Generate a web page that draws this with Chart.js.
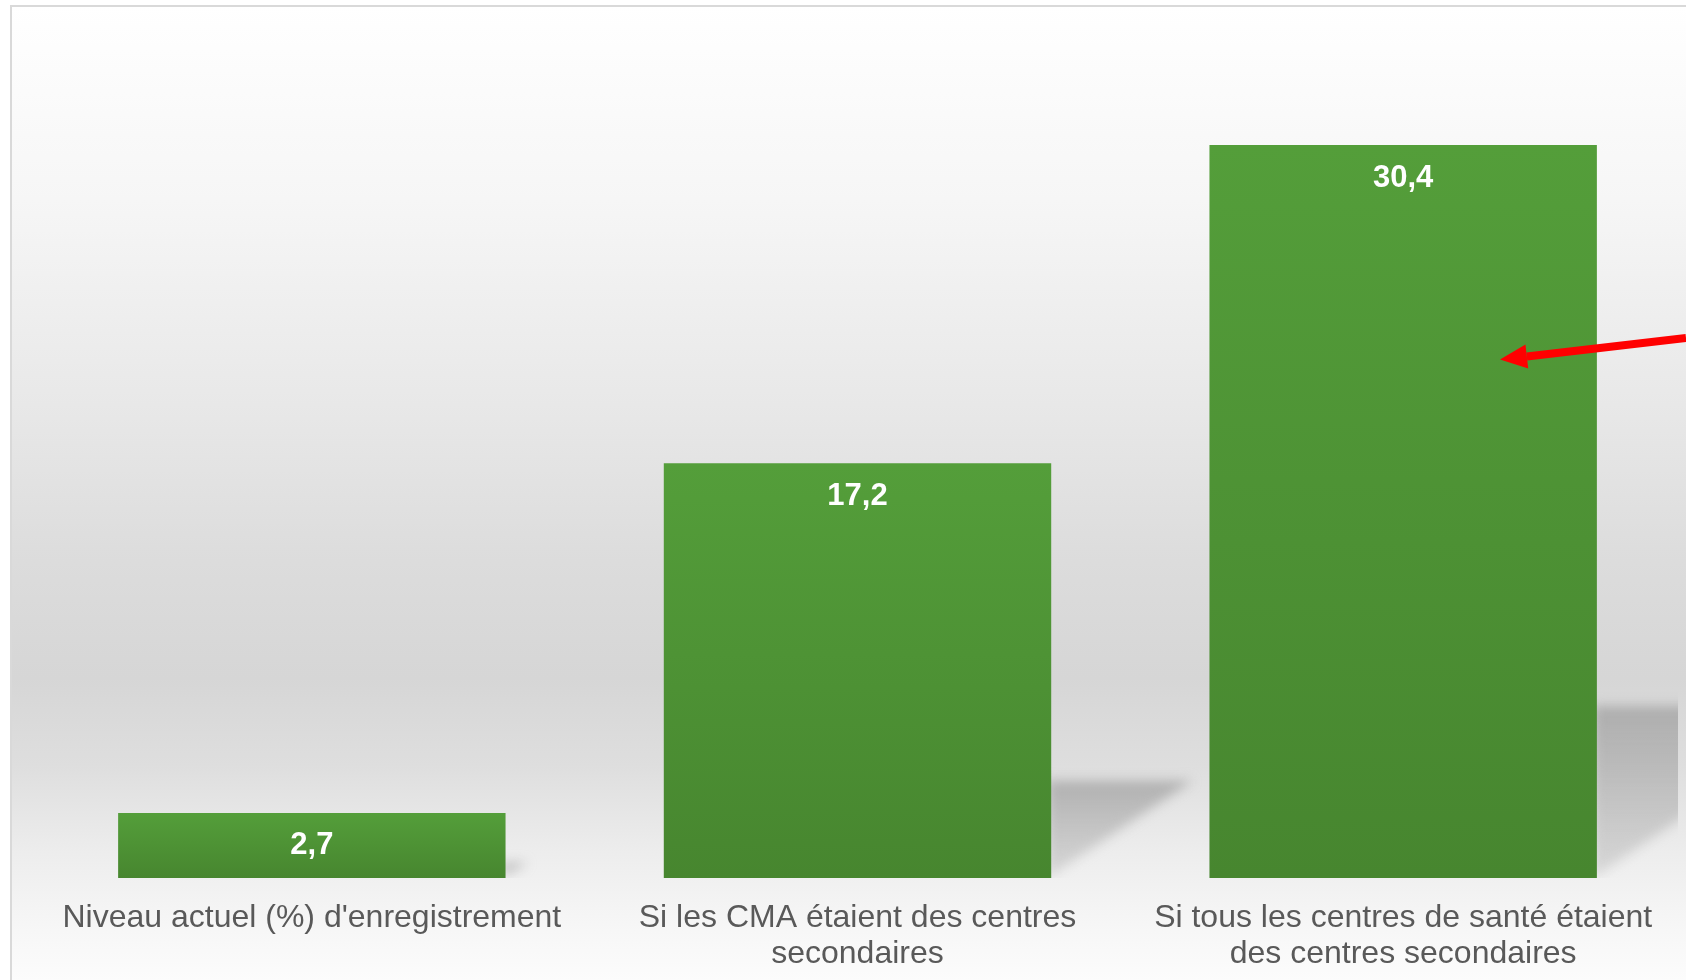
<!DOCTYPE html>
<html>
<head>
<meta charset="utf-8">
<script src="https://cdn.jsdelivr.net/npm/chart.js@4"></script>
<style>
  html, body { margin: 0; padding: 0; background: #fff; }
  #wrap { width: 1686px; height: 980px; position: relative; }
</style>
</head>
<body>
<div id="wrap"><canvas id="regChart"></canvas></div>
<script>
// catégories (étiquettes sur plusieurs lignes)
const categories = [
  ["Niveau actuel (%) d'enregistrement"],
  ["Si les CMA étaient des centres", "secondaires"],
  ["Si tous les centres de santé étaient", "des centres secondaires"]
];
const values = [2.7, 17.2, 30.4];
const valueLabels = ["2,7", "17,2", "30,4"];
// flèche rouge : valeurs (axe y) de la pointe et de la queue
const arrowTip = 21.5;
const arrowTail = 22.4;

// fond dégradé + cadre
const backgroundPlugin = {
  id: "fond",
  beforeDraw(chart) {
    const ctx = chart.ctx;
    const w = chart.width, h = chart.height;
    ctx.save();
    const g = ctx.createLinearGradient(0, 5, 0, h);
    g.addColorStop(0, "#ffffff");
    g.addColorStop(0.2, "#f6f6f6");
    g.addColorStop(0.41, "#e8e8e8");
    g.addColorStop(0.57, "#dcdcdc");
    g.addColorStop(0.69, "#d6d6d6");
    g.addColorStop(0.78, "#dedede");
    g.addColorStop(0.87, "#ededed");
    g.addColorStop(0.95, "#f7f7f7");
    g.addColorStop(1, "#fcfcfc");
    ctx.fillStyle = g;
    ctx.fillRect(10, 5, w - 10, h - 5);
    ctx.strokeStyle = "#d9d9d9";
    ctx.lineWidth = 2;
    ctx.beginPath();
    ctx.moveTo(11, h);
    ctx.lineTo(11, 6);
    ctx.lineTo(w, 6);
    ctx.stroke();
    ctx.restore();
  }
};

// ombres portées à droite des barres
const shadowPlugin = {
  id: "ombres",
  beforeDatasetsDraw(chart) {
    const ctx = chart.ctx;
    const area = chart.chartArea;
    ctx.save();
    ctx.beginPath();
    ctx.rect(area.left, area.top, area.right - area.left + 2, area.bottom - area.top);
    ctx.clip();
    ctx.filter = "blur(6px)";
    chart.getDatasetMeta(0).data.forEach(el => {
      const right = el.x + el.width / 2;
      const bottom = el.base;
      const sh = (el.base - el.y) * 0.235;
      const sw = sh * 1.45;
      const g = ctx.createLinearGradient(0, bottom - sh, 0, bottom);
      g.addColorStop(0, "rgba(150,150,150,0.65)");
      g.addColorStop(1, "rgba(170,170,170,0.35)");
      ctx.fillStyle = g;
      ctx.beginPath();
      ctx.moveTo(right - 4, bottom);
      ctx.lineTo(right - 4, bottom - sh);
      ctx.lineTo(right + sw, bottom - sh);
      ctx.closePath();
      ctx.fill();
    });
    ctx.restore();
  }
};

// valeurs en blanc dans le haut des barres
const labelPlugin = {
  id: "valeurs",
  afterDatasetsDraw(chart) {
    const ctx = chart.ctx;
    ctx.save();
    ctx.fillStyle = "#ffffff";
    ctx.font = "bold 31px 'Liberation Sans', Arial, sans-serif";
    ctx.textAlign = "center";
    ctx.textBaseline = "middle";
    chart.getDatasetMeta(0).data.forEach((el, i) => {
      ctx.fillText(valueLabels[i], el.x, el.y + 33);
    });
    ctx.restore();
  }
};

// flèche rouge vers la troisième barre
const arrowPlugin = {
  id: "fleche",
  afterDraw(chart) {
    const ctx = chart.ctx;
    const y = chart.scales.y;
    const bar = chart.getDatasetMeta(0).data[2];
    const tx = bar.x + bar.width * 0.25, ty = y.getPixelForValue(arrowTip);
    const sx = chart.width, sy = y.getPixelForValue(arrowTail);
    const ang = Math.atan2(sy - ty, sx - tx);
    const len = 27, half = 12;
    const bx = tx + Math.cos(ang) * len, by = ty + Math.sin(ang) * len;
    ctx.save();
    ctx.strokeStyle = "#ff0000";
    ctx.fillStyle = "#ff0000";
    ctx.lineWidth = 8;
    ctx.beginPath();
    ctx.moveTo(sx, sy);
    ctx.lineTo(bx, by);
    ctx.stroke();
    ctx.beginPath();
    ctx.moveTo(tx, ty);
    ctx.lineTo(bx - Math.sin(ang) * half, by + Math.cos(ang) * half);
    ctx.lineTo(bx + Math.sin(ang) * half, by - Math.cos(ang) * half);
    ctx.closePath();
    ctx.fill();
    ctx.restore();
  }
};

function barGradient(context) {
  const chart = context.chart;
  const ys = chart.scales.y;
  if (!ys || context.raw === undefined) return "#509b38";
  const top = ys.getPixelForValue(context.raw);
  const bottom = ys.getPixelForValue(0);
  if (!isFinite(top) || !isFinite(bottom) || top === bottom) return "#509b38";
  const g = chart.ctx.createLinearGradient(0, top, 0, bottom);
  g.addColorStop(0, "#549e3a");
  g.addColorStop(1, "#47862f");
  return g;
}

const ctx = document.getElementById("regChart").getContext("2d");
new Chart(ctx, {
  type: "bar",
  data: {
    labels: categories,
    datasets: [{
      data: values,
      backgroundColor: barGradient,
      borderWidth: 0,
      barPercentage: 0.71,
      categoryPercentage: 1
    }]
  },
  options: {
    responsive: true,
    maintainAspectRatio: false,
    animation: false,
    layout: { padding: { left: 39, right: 10, top: 10, bottom: 11 } },
    scales: {
      y: { display: false, min: 0, max: 36 },
      x: {
        grid: { display: false, drawTicks: false },
        border: { display: false },
        afterFit(scale) { scale.height = 91; },
        ticks: {
          color: "#595959",
          padding: 22,
          maxRotation: 0,
          autoSkip: false,
          font: { family: "'Liberation Sans', Arial, sans-serif", size: 32, lineHeight: 1.125 }
        }
      }
    },
    plugins: {
      legend: { display: false },
      tooltip: { enabled: false }
    }
  },
  plugins: [backgroundPlugin, shadowPlugin, labelPlugin, arrowPlugin]
});
</script>
</body>
</html>
